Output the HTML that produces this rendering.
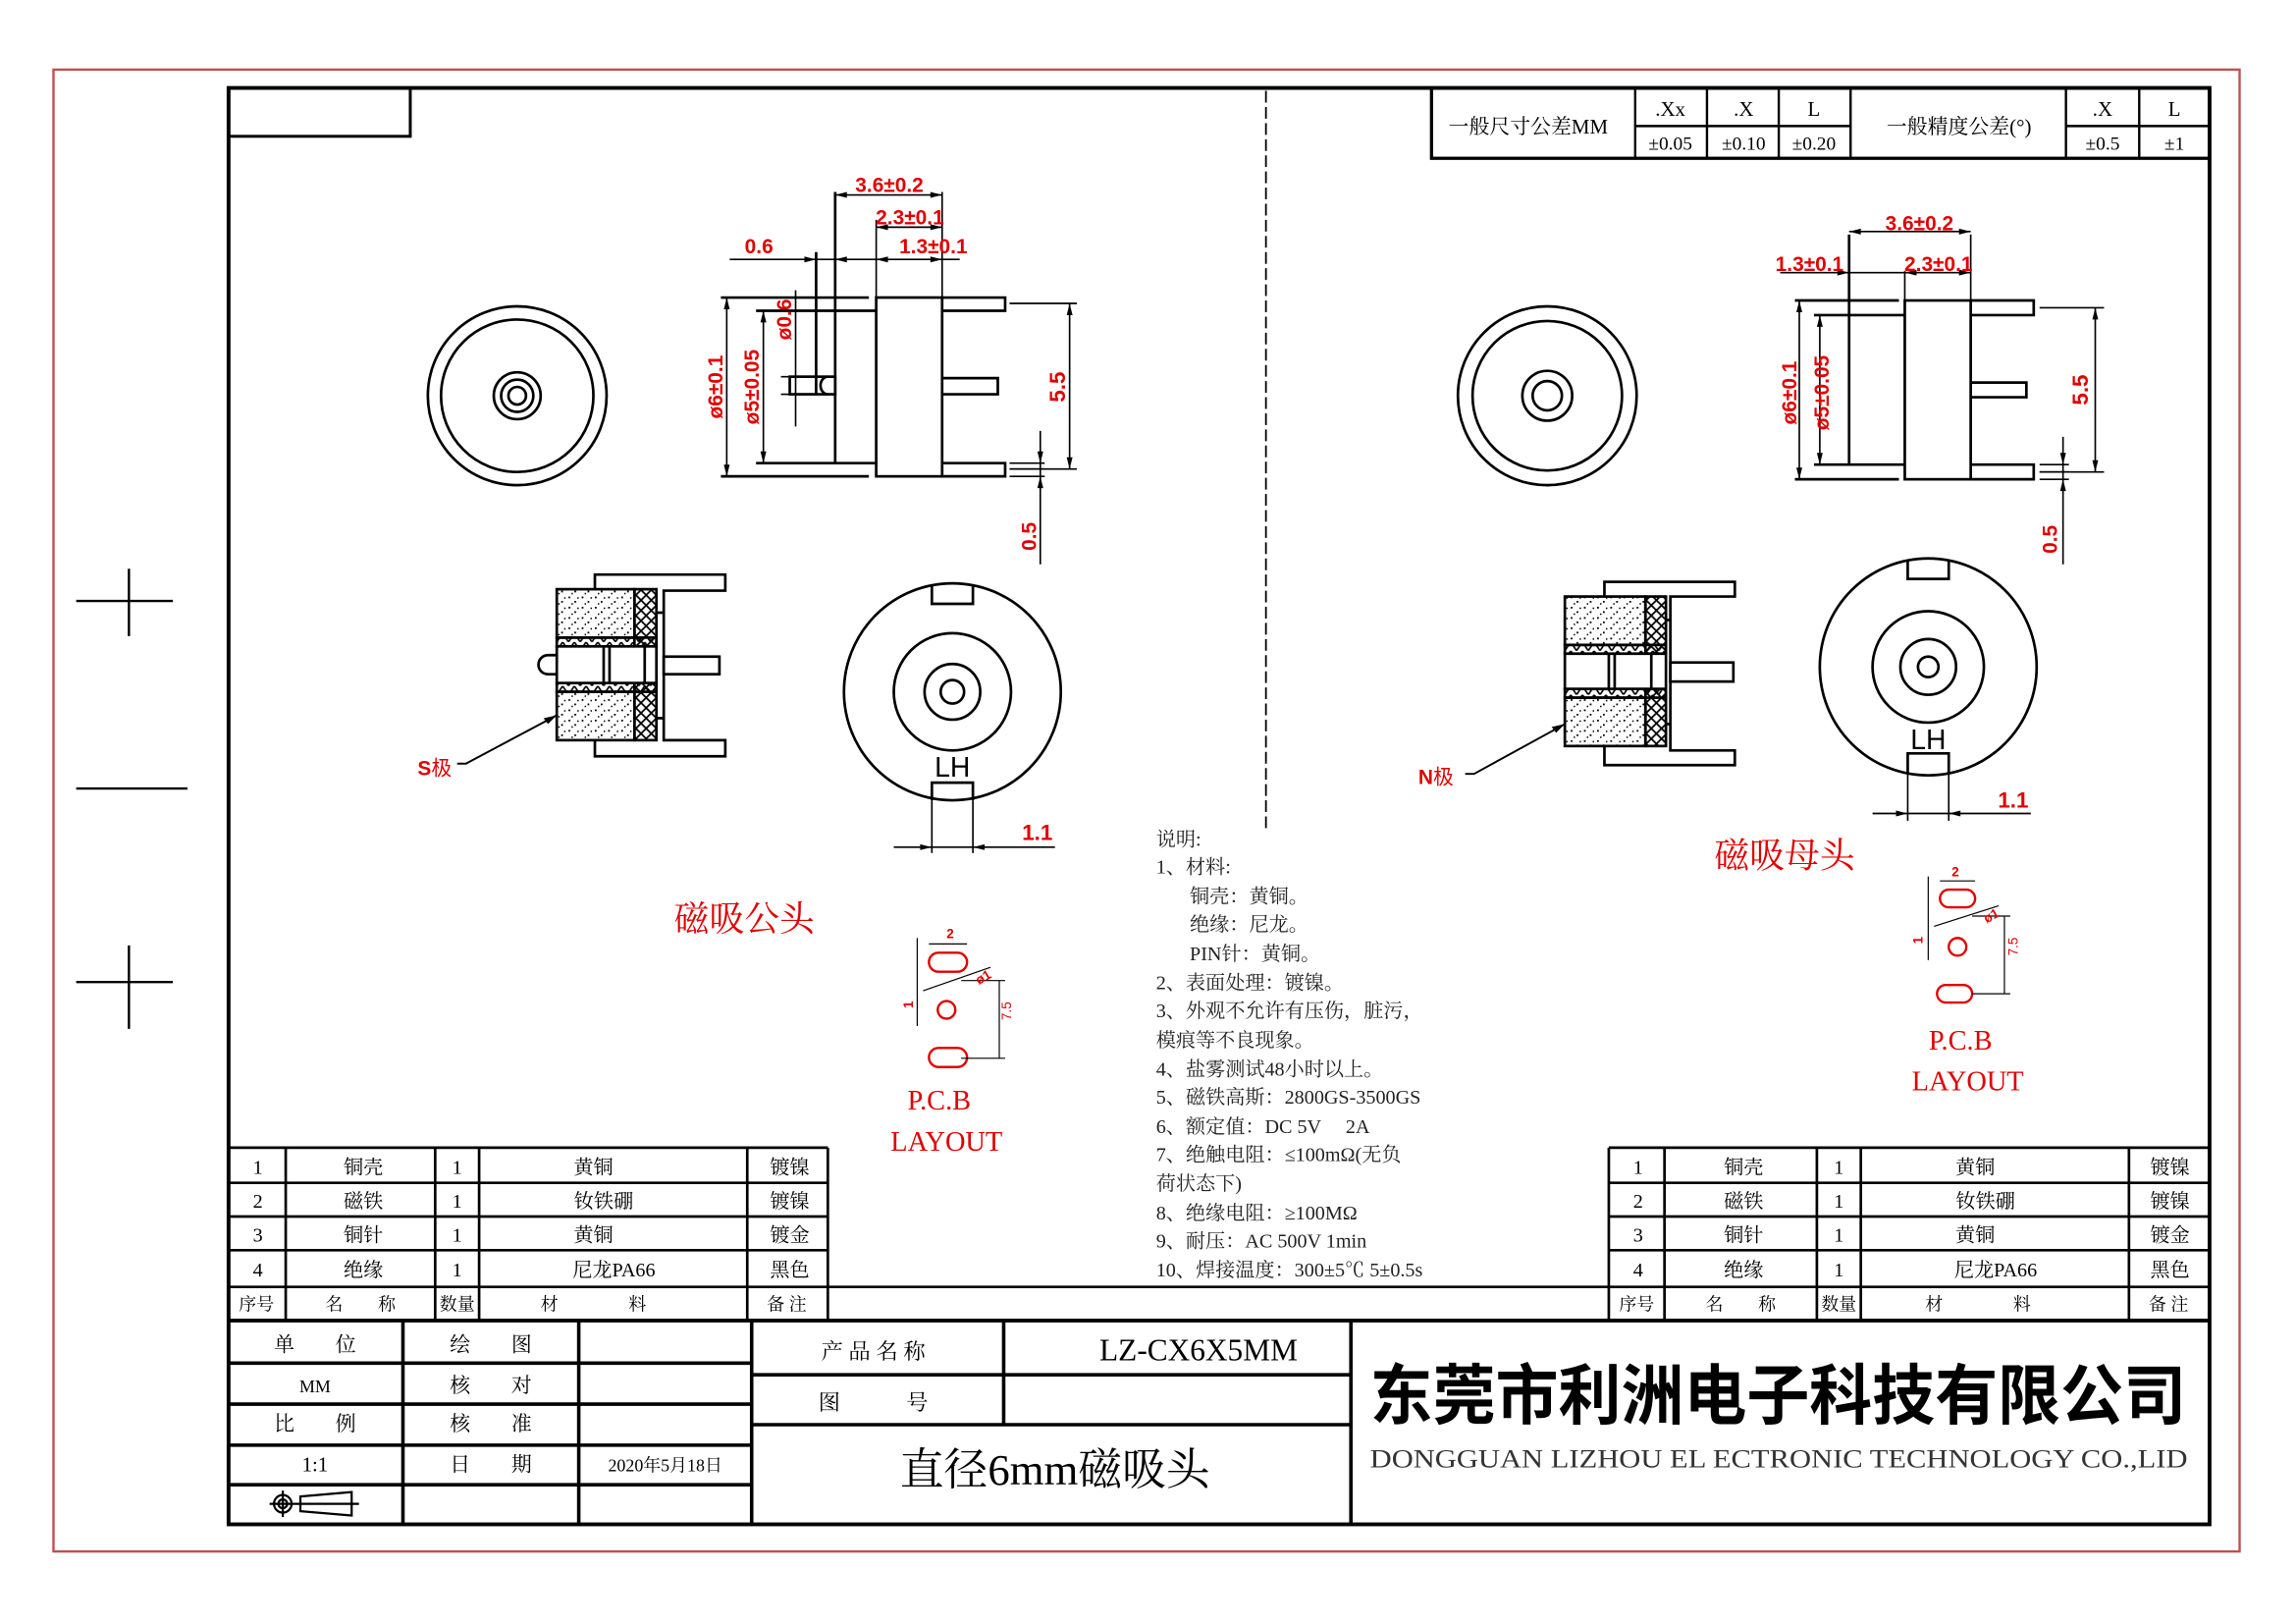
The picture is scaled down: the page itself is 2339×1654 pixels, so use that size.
<!DOCTYPE html>
<html><head><meta charset="utf-8"><style>
html,body{margin:0;padding:0;background:#fff;}
svg{display:block;}
.s{font-family:"Liberation Serif","Noto Serif CJK SC",serif;}
.r{fill:#e00000;font-family:"Liberation Sans","Noto Sans CJK SC",sans-serif;font-weight:bold;}
</style></head><body>
<svg width="2339" height="1654" viewBox="0 0 1567 1108" preserveAspectRatio="none" xmlns="http://www.w3.org/2000/svg">
<defs>
<pattern id="dots" width="9" height="7" patternUnits="userSpaceOnUse">
<rect x="1" y="1" width="1.2" height="1.2" fill="#000"/><rect x="5" y="4" width="1.2" height="1.2" fill="#000"/><rect x="7" y="1.5" width="1" height="1" fill="#000"/><rect x="3" y="5.5" width="1" height="1" fill="#000"/>
</pattern>
<pattern id="hatch" width="7" height="7" patternUnits="userSpaceOnUse">
<path d="M0 0L7 7M7 0L0 7" stroke="#000" stroke-width="1.2"/>
</pattern>
<pattern id="tri" width="8" height="6" patternUnits="userSpaceOnUse">
<path d="M0 0L4 6L8 0" stroke="#000" stroke-width="1.1" fill="none"/>
</pattern>
</defs>
<rect width="1567" height="1108" fill="#fff"/>
<rect x="36.5" y="47.5" width="1492" height="1011" fill="none" stroke="#c0504d" stroke-width="1.6"/>
<rect x="156" y="60" width="1352" height="980" fill="none" stroke="#000" stroke-width="2.6"/>
<rect x="156" y="60" width="124" height="33" fill="none" stroke="#000" stroke-width="2"/>
<line x1="864" y1="62" x2="864" y2="566" stroke="#000" stroke-width="1.2" stroke-dasharray="8,3"/>
<g stroke="#000" stroke-width="1.6">
<line x1="52" y1="410" x2="118" y2="410"/><line x1="88" y1="388" x2="88" y2="434"/>
<line x1="52" y1="538" x2="128" y2="538"/>
<line x1="52" y1="670" x2="118" y2="670"/><line x1="88" y1="645" x2="88" y2="702"/>
</g>
<g stroke="#000" stroke-width="1.6" fill="none">
<rect x="977" y="60" width="531" height="48" stroke-width="2.2"/>
<line x1="1116" y1="86" x2="1263" y2="86"/><line x1="1410" y1="86" x2="1508" y2="86"/>
<line x1="1116" y1="60" x2="1116" y2="108"/><line x1="1165" y1="60" x2="1165" y2="108"/><line x1="1214" y1="60" x2="1214" y2="108"/><line x1="1263" y1="60" x2="1263" y2="108"/><line x1="1410" y1="60" x2="1410" y2="108"/><line x1="1460" y1="60" x2="1460" y2="108"/>
</g>
<g class="s" font-size="14" text-anchor="middle">
<text x="1043" y="91">一般尺寸公差MM</text>
<text x="1140" y="79">.Xx</text><text x="1190" y="79">.X</text><text x="1238" y="79">L</text>
<text x="1140" y="102" font-size="13">±0.05</text><text x="1190" y="102" font-size="13">±0.10</text><text x="1238" y="102" font-size="13">±0.20</text>
<text x="1337" y="91">一般精度公差(°)</text>
<text x="1435" y="79">.X</text><text x="1484" y="79">L</text>
<text x="1435" y="102" font-size="13">±0.5</text><text x="1484" y="102" font-size="13">±1</text>
</g>

<g stroke="#000" stroke-width="1.8" fill="none">
<circle cx="353" cy="270" r="61"/><circle cx="353" cy="270" r="52"/>
<circle cx="353" cy="270" r="16"/><circle cx="353" cy="270" r="11"/><circle cx="353" cy="270" r="6"/>
<rect x="598" y="203" width="45" height="122"/>
<line x1="492" y1="203" x2="593" y2="203"/><line x1="492" y1="325" x2="593" y2="325"/>
<line x1="516" y1="212" x2="598" y2="212"/><line x1="516" y1="316" x2="598" y2="316"/>
<line x1="570" y1="131" x2="570" y2="316"/>
<line x1="557" y1="172" x2="557" y2="269"/>
<rect x="539" y="257" width="31" height="12"/>
<path d="M565 257 A5 6 0 0 0 565 269"/>
<path d="M643 203 H686 V212 H643"/>
<path d="M643 258 H681 V269 H643"/>
<path d="M643 316 H686 V325 H643"/>
</g>
<g stroke="#000" stroke-width="1.1" fill="none">
<line x1="496" y1="203" x2="496" y2="325"/><line x1="521" y1="212" x2="521" y2="316"/>
<line x1="543" y1="198" x2="543" y2="291"/><line x1="533" y1="257" x2="545" y2="257"/><line x1="533" y1="269" x2="545" y2="269"/>
<line x1="643" y1="131" x2="643" y2="203"/><line x1="598" y1="150" x2="598" y2="203"/>
<line x1="570" y1="133" x2="643" y2="133"/>
<line x1="598" y1="155" x2="643" y2="155"/>
<line x1="498" y1="177" x2="655" y2="177"/>
<line x1="689" y1="207" x2="735" y2="207"/><line x1="689" y1="320" x2="735" y2="320"/>
<line x1="730" y1="207" x2="730" y2="320"/>
<line x1="710" y1="294" x2="710" y2="385"/>
<line x1="689" y1="316" x2="713" y2="316"/><line x1="689" y1="320" x2="713" y2="320"/><line x1="689" y1="325" x2="713" y2="325"/>
</g>
<g fill="#000">
<path d="M570 133 l8 -2 v4z"/><path d="M643 133 l-8 -2 v4z"/>
<path d="M598 155 l8 -2 v4z"/><path d="M643 155 l-8 -2 v4z"/>
<path d="M557 177 l-8 -2 v4z"/><path d="M570 177 l8 -2 v4z"/><path d="M598 177 l8 -2 v4z"/><path d="M643 177 l-8 -2 v4z"/>
<path d="M496 203 l-2 8 h4z"/><path d="M496 325 l-2 -8 h4z"/>
<path d="M521 212 l-2 8 h4z"/><path d="M521 316 l-2 -8 h4z"/>
<path d="M730 207 l-2 8 h4z"/><path d="M730 320 l-2 -8 h4z"/>
<path d="M710 316 l-2 -8 h4z"/><path d="M710 325 l-2 8 h4z"/>
</g>
<text class="r" x="607" y="131" font-size="14" text-anchor="middle">3.6±0.2</text>
<text class="r" x="621" y="153" font-size="14" text-anchor="middle">2.3±0.1</text>
<text class="r" x="518" y="173" font-size="14" text-anchor="middle">0.6</text>
<text class="r" x="637" y="173" font-size="14" text-anchor="middle">1.3±0.1</text>
<text class="r" font-size="14" text-anchor="middle" transform="translate(493,264) rotate(-90)">ø6±0.1</text>
<text class="r" font-size="14" text-anchor="middle" transform="translate(518,264) rotate(-90)">ø5±0.05</text>
<text class="r" font-size="14" text-anchor="middle" transform="translate(540,218) rotate(-90)">ø0.6</text>
<text class="r" font-size="15" text-anchor="middle" transform="translate(727,264) rotate(-90)">5.5</text>
<text class="r" font-size="14" text-anchor="middle" transform="translate(707,366) rotate(-90)">0.5</text>

<g stroke="#000" stroke-width="1.8">
<rect x="380" y="402" width="53" height="33" fill="url(#dots)"/>
<rect x="380" y="472" width="53" height="33" fill="url(#dots)"/>
<rect x="433" y="402" width="15" height="103" fill="url(#hatch)"/>
<rect x="380" y="435" width="68" height="6" fill="url(#tri)"/>
<rect x="380" y="466" width="68" height="6" fill="url(#tri)"/>
<rect x="380" y="441" width="68" height="25" fill="#fff"/>
<line x1="412" y1="441" x2="412" y2="466"/><line x1="416" y1="441" x2="416" y2="466"/><line x1="440" y1="441" x2="440" y2="466"/>
<path d="M380 447 h-6 a6 6 0 0 0 0 13 h6" fill="none"/>
<path d="M406 402 V392 H495 V403 H453 V505 H495 V516 H406 V505" fill="none"/>
<line x1="448" y1="418" x2="453" y2="418"/><line x1="448" y1="490" x2="453" y2="490"/>
<rect x="453" y="448" width="38" height="12" fill="none"/>
</g>
<path d="M380 488 L318 521 H312" stroke="#000" stroke-width="1.3" fill="none"/>
<path d="M380 488 l-9 2 l3 4z" fill="#000"/>
<text x="285" y="529" font-size="14" fill="#e00000" font-family="Liberation Sans,Noto Sans CJK SC,sans-serif"><tspan font-weight="bold">S</tspan>极</text>
<g stroke="#000" stroke-width="1.8" fill="none">
<circle cx="650" cy="472" r="74"/><circle cx="650" cy="472" r="40"/><circle cx="650" cy="472" r="19"/><circle cx="650" cy="472" r="8"/>
<path d="M636 399 V412 H664 V399"/>
<path d="M636 546 V534 H664 V546"/>
</g>
<text x="650" y="530" font-size="19" text-anchor="middle" font-family="Liberation Sans,sans-serif">LH</text>
<g stroke="#000" stroke-width="1.1"><line x1="636" y1="546" x2="636" y2="582"/><line x1="664" y1="546" x2="664" y2="582"/><line x1="610" y1="578" x2="720" y2="578"/></g>
<path d="M636 578 l-8 -2 v4z M664 578 l8 -2 v4z" fill="#000"/>
<text class="r" x="708" y="573" font-size="15" text-anchor="middle">1.1</text>
<text x="508" y="635" font-size="24" fill="#e00000" text-anchor="middle" font-family="Noto Serif CJK SC,serif">磁吸公头</text>
<g stroke="#e00000" stroke-width="1.6" fill="none">
<rect x="634" y="650" width="26" height="13" rx="6.5"/>
<circle cx="646" cy="689" r="6"/>
<rect x="634" y="715" width="26" height="13" rx="6.5"/>
</g>
<g stroke="#000" stroke-width="0.8" fill="none">
<line x1="626" y1="640" x2="626" y2="700"/><line x1="634" y1="644" x2="660" y2="644"/><line x1="630" y1="676" x2="676" y2="660"/>
<line x1="656" y1="669" x2="686" y2="669"/><line x1="656" y1="722" x2="686" y2="722"/><line x1="682" y1="669" x2="682" y2="722"/>
</g>
<text class="r" font-size="9" transform="translate(646,640)">2</text>
<text class="r" font-size="9" transform="translate(623,688) rotate(-90)">1</text>
<text class="r" font-size="9" transform="translate(668,672) rotate(-30)">ø1</text>
<text font-size="9" fill="#e00000" transform="translate(690,696) rotate(-90)" font-family="Liberation Sans">7.5</text>
<text class="s" x="641" y="757" font-size="19" fill="#e00000" text-anchor="middle">P.C.B</text>
<text class="s" x="646" y="785" font-size="19" fill="#e00000" text-anchor="middle">LAYOUT</text>

<g stroke="#000" stroke-width="1.8" fill="none">
<circle cx="1056" cy="270" r="61"/><circle cx="1056" cy="270" r="51"/>
<circle cx="1056" cy="270" r="17"/><circle cx="1056" cy="270" r="10"/>
<rect x="1300" y="205" width="45" height="122"/>
<line x1="1225" y1="205" x2="1296" y2="205"/><line x1="1225" y1="327" x2="1296" y2="327"/>
<line x1="1238" y1="215" x2="1300" y2="215"/><line x1="1238" y1="317" x2="1300" y2="317"/>
<line x1="1262" y1="160" x2="1262" y2="317"/>
<path d="M1345 205 H1388 V215 H1345"/>
<path d="M1345 261 H1383 V271 H1345"/>
<path d="M1345 317 H1388 V327 H1345"/>
</g>
<g stroke="#000" stroke-width="1.1" fill="none">
<line x1="1228" y1="205" x2="1228" y2="327"/><line x1="1242" y1="215" x2="1242" y2="317"/>
<line x1="1345" y1="160" x2="1345" y2="205"/><line x1="1300" y1="185" x2="1300" y2="205"/>
<line x1="1262" y1="158" x2="1345" y2="158"/>
<line x1="1215" y1="186" x2="1345" y2="186"/>
<line x1="1392" y1="210" x2="1436" y2="210"/><line x1="1392" y1="322" x2="1436" y2="322"/>
<line x1="1430" y1="210" x2="1430" y2="322"/>
<line x1="1408" y1="298" x2="1408" y2="385"/>
<line x1="1392" y1="317" x2="1412" y2="317"/><line x1="1392" y1="322" x2="1412" y2="322"/><line x1="1392" y1="327" x2="1412" y2="327"/>
</g>
<g fill="#000">
<path d="M1262 158 l8 -2 v4z M1345 158 l-8 -2 v4z"/>
<path d="M1262 186 l-8 -2 v4z M1300 186 l8 -2 v4z M1345 186 l-8 -2 v4z"/>
<path d="M1228 205 l-2 8 h4z M1228 327 l-2 -8 h4z M1242 215 l-2 8 h4z M1242 317 l-2 -8 h4z"/>
<path d="M1430 210 l-2 8 h4z M1430 322 l-2 -8 h4z M1408 317 l-2 -8 h4z M1408 327 l-2 8 h4z"/>
</g>
<text class="r" x="1310" y="157" font-size="14" text-anchor="middle">3.6±0.2</text>
<text class="r" x="1235" y="185" font-size="14" text-anchor="middle">1.3±0.1</text>
<text class="r" x="1323" y="185" font-size="14" text-anchor="middle">2.3±0.1</text>
<text class="r" font-size="14" text-anchor="middle" transform="translate(1226,268) rotate(-90)">ø6±0.1</text>
<text class="r" font-size="14" text-anchor="middle" transform="translate(1248,268) rotate(-90)">ø5±0.05</text>
<text class="r" font-size="15" text-anchor="middle" transform="translate(1425,266) rotate(-90)">5.5</text>
<text class="r" font-size="14" text-anchor="middle" transform="translate(1404,368) rotate(-90)">0.5</text>
<g stroke="#000" stroke-width="1.8">
<rect x="1068" y="407" width="55" height="33" fill="url(#dots)"/>
<rect x="1068" y="476" width="55" height="33" fill="url(#dots)"/>
<rect x="1123" y="407" width="14" height="102" fill="url(#hatch)"/>
<rect x="1068" y="440" width="69" height="6" fill="url(#tri)"/>
<rect x="1068" y="470" width="69" height="6" fill="url(#tri)"/>
<rect x="1068" y="446" width="69" height="24" fill="#fff"/>
<line x1="1098" y1="446" x2="1098" y2="470"/><line x1="1102" y1="446" x2="1102" y2="470"/><line x1="1127" y1="446" x2="1127" y2="470"/>
<path d="M1095 407 V397 H1184 V407 H1140 V512 H1184 V522 H1095 V509" fill="none"/>
<line x1="1137" y1="423" x2="1140" y2="423"/><line x1="1137" y1="494" x2="1140" y2="494"/>
<rect x="1140" y="452" width="43" height="13" fill="none"/>
</g>
<path d="M1068 494 L1006 528 H1000" stroke="#000" stroke-width="1.3" fill="none"/>
<path d="M1068 494 l-9 2 l3 4z" fill="#000"/>
<text x="968" y="535" font-size="14" fill="#e00000" font-family="Liberation Sans,Noto Sans CJK SC,sans-serif"><tspan font-weight="bold">N</tspan>极</text>
<g stroke="#000" stroke-width="1.8" fill="none">
<circle cx="1316" cy="455" r="74"/><circle cx="1316" cy="455" r="38"/><circle cx="1316" cy="455" r="19"/><circle cx="1316" cy="455" r="7"/>
<path d="M1302 382 V395 H1330 V382"/>
<path d="M1302 528 V514 H1330 V528"/>
</g>
<text x="1316" y="511" font-size="19" text-anchor="middle" font-family="Liberation Sans,sans-serif">LH</text>
<g stroke="#000" stroke-width="1.1"><line x1="1302" y1="528" x2="1302" y2="560"/><line x1="1330" y1="528" x2="1330" y2="560"/><line x1="1278" y1="555" x2="1386" y2="555"/></g>
<path d="M1302 555 l-8 -2 v4z M1330 555 l8 -2 v4z" fill="#000"/>
<text class="r" x="1374" y="551" font-size="15" text-anchor="middle">1.1</text>
<text x="1218" y="592" font-size="24" fill="#e00000" text-anchor="middle" font-family="Noto Serif CJK SC,serif">磁吸母头</text>
<g stroke="#e00000" stroke-width="1.6" fill="none">
<rect x="1324" y="607" width="24" height="12" rx="6"/>
<circle cx="1336" cy="646" r="6"/>
<rect x="1322" y="672" width="24" height="12" rx="6"/>
</g>
<g stroke="#000" stroke-width="0.8" fill="none">
<line x1="1316" y1="598" x2="1316" y2="655"/><line x1="1324" y1="601" x2="1348" y2="601"/><line x1="1320" y1="632" x2="1364" y2="618"/>
<line x1="1346" y1="625" x2="1372" y2="625"/><line x1="1346" y1="678" x2="1372" y2="678"/><line x1="1368" y1="625" x2="1368" y2="678"/>
</g>
<text class="r" font-size="9" transform="translate(1332,598)">2</text>
<text class="r" font-size="9" transform="translate(1312,644) rotate(-90)">1</text>
<text class="r" font-size="9" transform="translate(1356,630) rotate(-30)">ø1</text>
<text font-size="9" fill="#e00000" transform="translate(1377,652) rotate(-90)" font-family="Liberation Sans">7.5</text>
<text class="s" x="1338" y="716" font-size="19" fill="#e00000" text-anchor="middle">P.C.B</text>
<text class="s" x="1343" y="744" font-size="19" fill="#e00000" text-anchor="middle">LAYOUT</text>

<g class="s" font-size="13.5" fill="#222">
<text x="789" y="577">说明:</text>
<text x="789" y="596">1、材料:</text>
<text x="812" y="616">铜壳：黄铜。</text>
<text x="812" y="635">绝缘：尼龙。</text>
<text x="812" y="655">PIN针：黄铜。</text>
<text x="789" y="675">2、表面处理：镀镍。</text>
<text x="789" y="694">3、外观不允许有压伤，脏污，</text>
<text x="789" y="714">模痕等不良现象。</text>
<text x="789" y="734">4、盐雾测试48小时以上。</text>
<text x="789" y="753">5、磁铁高斯：2800GS-3500GS</text>
<text x="789" y="773">6、额定值：DC 5V　 2A</text>
<text x="789" y="792">7、绝触电阻：≤100mΩ(无负</text>
<text x="789" y="812">荷状态下)</text>
<text x="789" y="832">8、绝缘电阻：≥100MΩ</text>
<text x="789" y="851">9、耐压：AC 500V 1min</text>
<text x="789" y="871">10、焊接温度：300±5℃ 5±0.5s</text>
</g>

<g stroke="#000" stroke-width="1.8" fill="none">
<line x1="156" y1="783" x2="565" y2="783"/><line x1="156" y1="807" x2="565" y2="807"/><line x1="156" y1="830" x2="565" y2="830"/><line x1="156" y1="853" x2="565" y2="853"/>
<line x1="195" y1="783" x2="195" y2="900"/><line x1="297" y1="783" x2="297" y2="900"/><line x1="327" y1="783" x2="327" y2="900"/><line x1="510" y1="783" x2="510" y2="900"/><line x1="565" y1="783" x2="565" y2="900"/>
<line x1="1098" y1="783" x2="1508" y2="783"/><line x1="1098" y1="807" x2="1508" y2="807"/><line x1="1098" y1="830" x2="1508" y2="830"/><line x1="1098" y1="853" x2="1508" y2="853"/>
<line x1="1098" y1="783" x2="1098" y2="900"/><line x1="1136" y1="783" x2="1136" y2="900"/><line x1="1240" y1="783" x2="1240" y2="900"/><line x1="1270" y1="783" x2="1270" y2="900"/><line x1="1453" y1="783" x2="1453" y2="900"/>
<line x1="156" y1="878" x2="1508" y2="878"/>
<line x1="156" y1="901" x2="1508" y2="901" stroke-width="2.6"/>
</g>
<g class="s" font-size="13.5" text-anchor="middle">
<text x="176" y="801">1</text><text x="248" y="801">铜壳</text><text x="312" y="801">1</text><text x="405" y="801">黄铜</text><text x="539" y="801">镀镍</text>
<text x="176" y="824">2</text><text x="248" y="824">磁铁</text><text x="312" y="824">1</text><text x="412" y="824">钕铁硼</text><text x="539" y="824">镀镍</text>
<text x="176" y="847">3</text><text x="248" y="847">铜针</text><text x="312" y="847">1</text><text x="405" y="847">黄铜</text><text x="539" y="847">镀金</text>
<text x="176" y="871">4</text><text x="248" y="871">绝缘</text><text x="312" y="871">1</text><text x="419" y="871">尼龙PA66</text><text x="539" y="871">黑色</text>
<text x="175" y="894" font-size="12">序号</text><text x="246" y="894" font-size="12">名　　称</text><text x="312" y="894" font-size="12">数量</text><text x="405" y="894" font-size="12">材　　　　料</text><text x="537" y="894" font-size="12">备 注</text>
<text x="1118" y="801">1</text><text x="1190" y="801">铜壳</text><text x="1255" y="801">1</text><text x="1348" y="801">黄铜</text><text x="1481" y="801">镀镍</text>
<text x="1118" y="824">2</text><text x="1190" y="824">磁铁</text><text x="1255" y="824">1</text><text x="1355" y="824">钕铁硼</text><text x="1481" y="824">镀镍</text>
<text x="1118" y="847">3</text><text x="1190" y="847">铜针</text><text x="1255" y="847">1</text><text x="1348" y="847">黄铜</text><text x="1481" y="847">镀金</text>
<text x="1118" y="871">4</text><text x="1190" y="871">绝缘</text><text x="1255" y="871">1</text><text x="1362" y="871">尼龙PA66</text><text x="1481" y="871">黑色</text>
<text x="1117" y="894" font-size="12">序号</text><text x="1188" y="894" font-size="12">名　　称</text><text x="1255" y="894" font-size="12">数量</text><text x="1350" y="894" font-size="12">材　　　　料</text><text x="1480" y="894" font-size="12">备 注</text>
</g>

<g stroke="#000" stroke-width="2.4" fill="none">
<line x1="275" y1="901" x2="275" y2="1040"/><line x1="395" y1="901" x2="395" y2="1040"/><line x1="513" y1="901" x2="513" y2="1040"/>
<line x1="156" y1="930" x2="513" y2="930"/><line x1="156" y1="958" x2="513" y2="958"/><line x1="156" y1="986" x2="513" y2="986"/><line x1="156" y1="1013" x2="513" y2="1013"/>
<line x1="685" y1="901" x2="685" y2="972"/><line x1="922" y1="901" x2="922" y2="1040"/>
<line x1="513" y1="938" x2="922" y2="938"/><line x1="513" y1="972" x2="922" y2="972"/>
</g>
<g class="s" font-size="14" text-anchor="middle">
<text x="215" y="922">单　　位</text><text x="335" y="922">绘　　图</text>
<text x="215" y="950" font-size="12">MM</text><text x="335" y="950">核　　对</text>
<text x="215" y="976">比　　例</text><text x="335" y="976">核　　准</text>
<text x="215" y="1004">1:1</text><text x="335" y="1004">日　　期</text><text x="454" y="1004" font-size="12">2020年5月18日</text>
<text x="596" y="927" font-size="15">产 品 名 称</text>
<text x="818" y="928" font-size="21">LZ-CX6X5MM</text>
<text x="596" y="962" font-size="15">图　　　号</text>
<text x="720" y="1013" font-size="30">直径6mm磁吸头</text>
</g>
<g stroke="#000" stroke-width="1.5" fill="none">
<circle cx="193" cy="1026" r="6"/><circle cx="193" cy="1026" r="3"/>
<line x1="184" y1="1026" x2="245" y2="1026"/><line x1="193" y1="1017" x2="193" y2="1035"/>
<path d="M205 1021 L240 1018 V1034 L205 1031Z"/>
</g>
<text x="935" y="968" font-size="45" font-weight="bold" font-family="Noto Sans CJK SC,sans-serif" textLength="557" lengthAdjust="spacingAndGlyphs">东莞市利洲电子科技有限公司</text>
<text x="935" y="1001" font-size="18" fill="#333" font-family="Liberation Serif,serif" textLength="558" lengthAdjust="spacingAndGlyphs">DONGGUAN LIZHOU EL ECTRONIC TECHNOLOGY CO.,LID</text>
</svg>
</body></html>
